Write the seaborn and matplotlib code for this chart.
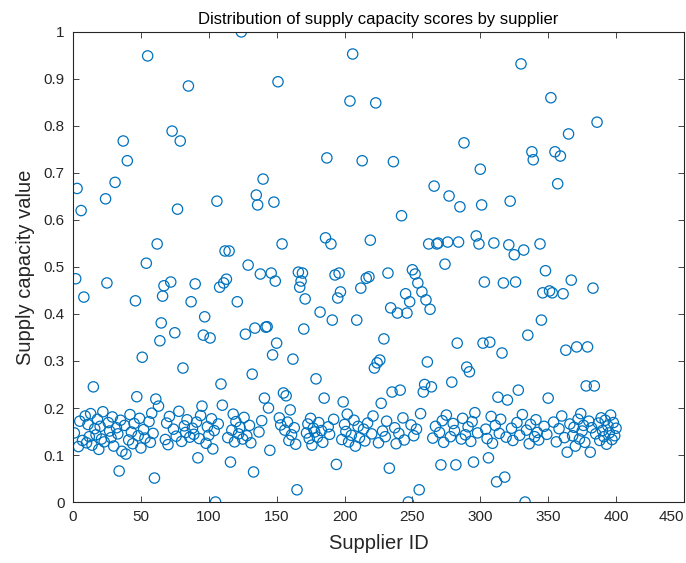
import numpy as np
import pandas as pd
import matplotlib
matplotlib.use("Agg")
import matplotlib.pyplot as plt
import seaborn as sns
from matplotlib.ticker import FuncFormatter

# Supplier IDs 1..400 and capacity values
supplier_ids = list(range(1, 401))
capacity = [
    0.147, 0.475, 0.667, 0.118, 0.172, 0.62, 0.131, 0.436, 0.183, 0.126,
    0.165, 0.139, 0.188, 0.121, 0.245, 0.156, 0.143, 0.176, 0.112, 0.161,
    0.134, 0.192, 0.128, 0.645, 0.466, 0.169, 0.151, 0.137, 0.181, 0.119,
    0.68, 0.158, 0.145, 0.066, 0.174, 0.108, 0.768, 0.163, 0.102, 0.726,
    0.132, 0.186, 0.149, 0.124, 0.167, 0.428, 0.224, 0.141, 0.178, 0.115,
    0.308, 0.154, 0.136, 0.508, 0.949, 0.171, 0.127, 0.189, 0.146, 0.051,
    0.219, 0.549, 0.204, 0.343, 0.381, 0.438, 0.46, 0.133, 0.168, 0.122,
    0.182, 0.468, 0.789, 0.155, 0.36, 0.14, 0.623, 0.193, 0.768, 0.129,
    0.285, 0.162, 0.148, 0.175, 0.885, 0.138, 0.426, 0.157, 0.144, 0.464,
    0.17, 0.094, 0.135, 0.184, 0.204, 0.355, 0.394, 0.125, 0.16, 0.142,
    0.349, 0.177, 0.113, 0.152, 0.0, 0.64, 0.166, 0.457, 0.251, 0.206,
    0.466, 0.534, 0.474, 0.137, 0.534, 0.085, 0.153, 0.187, 0.128, 0.171,
    0.426, 0.145, 0.159, 1.0, 0.134, 0.18, 0.357, 0.141, 0.504, 0.163,
    0.126, 0.272, 0.064, 0.37, 0.653, 0.632, 0.149, 0.485, 0.173, 0.687,
    0.221, 0.372, 0.373, 0.2, 0.11, 0.487, 0.313, 0.638, 0.47, 0.338,
    0.894, 0.179, 0.164, 0.549, 0.232, 0.153, 0.226, 0.17, 0.131, 0.196,
    0.143, 0.304, 0.158, 0.123, 0.026, 0.489, 0.457, 0.47, 0.487, 0.368,
    0.432, 0.147, 0.166, 0.135, 0.178, 0.121, 0.157, 0.149, 0.262, 0.138,
    0.169, 0.404, 0.152, 0.127, 0.221, 0.562, 0.732, 0.16, 0.144, 0.549,
    0.387, 0.176, 0.483, 0.08, 0.434, 0.487, 0.447, 0.133, 0.213, 0.165,
    0.15, 0.187, 0.128, 0.853, 0.142, 0.953, 0.174, 0.119, 0.387, 0.161,
    0.137, 0.455, 0.726, 0.155, 0.13, 0.476, 0.168, 0.479, 0.557, 0.145,
    0.183, 0.285, 0.849, 0.296, 0.126, 0.302, 0.21, 0.151, 0.347, 0.139,
    0.172, 0.487, 0.072, 0.413, 0.234, 0.724, 0.158, 0.124, 0.402, 0.146,
    0.238, 0.609, 0.179, 0.132, 0.443, 0.402, 0.0, 0.426, 0.164, 0.494,
    0.141, 0.485, 0.155, 0.466, 0.026, 0.188, 0.447, 0.234, 0.25, 0.43,
    0.298, 0.549, 0.41, 0.245, 0.136, 0.672, 0.161, 0.549, 0.551, 0.148,
    0.079, 0.173, 0.127, 0.506, 0.185, 0.553, 0.651, 0.139, 0.255, 0.167,
    0.152, 0.079, 0.338, 0.553, 0.628, 0.134, 0.178, 0.764, 0.143, 0.287,
    0.16, 0.277, 0.129, 0.171, 0.085, 0.19, 0.566, 0.147, 0.549, 0.708,
    0.632, 0.338, 0.468, 0.155, 0.135, 0.094, 0.34, 0.182, 0.125, 0.551,
    0.163, 0.043, 0.223, 0.146, 0.176, 0.317, 0.466, 0.053, 0.138, 0.217,
    0.547, 0.64, 0.157, 0.131, 0.526, 0.468, 0.169, 0.238, 0.142, 0.932,
    0.186, 0.536, 0.0, 0.153, 0.355, 0.124, 0.165, 0.745, 0.728, 0.139,
    0.175, 0.148, 0.132, 0.549, 0.387, 0.445, 0.161, 0.492, 0.144, 0.221,
    0.449, 0.86, 0.445, 0.17, 0.745, 0.128, 0.677, 0.156, 0.736, 0.183,
    0.443, 0.137, 0.323, 0.106, 0.783, 0.166, 0.472, 0.141, 0.159, 0.119,
    0.33, 0.176, 0.134, 0.188, 0.151, 0.163, 0.127, 0.247, 0.33, 0.172,
    0.106, 0.158, 0.455, 0.247, 0.145, 0.808, 0.168, 0.131, 0.179, 0.152,
    0.139, 0.174, 0.123, 0.162, 0.147, 0.185, 0.133, 0.169, 0.141, 0.157,
]

x_ticks = [0, 50, 100, 150, 200, 250, 300, 350, 400, 450]
y_ticks = [0, 0.1, 0.2, 0.3, 0.4, 0.5, 0.6, 0.7, 0.8, 0.9, 1.0]

df = pd.DataFrame({"Supplier ID": supplier_ids, "Capacity": capacity})

sns.set_theme(style="ticks")
plt.rcParams.update({
    'font.family': ['Liberation Sans', 'DejaVu Sans'],
    'xtick.direction': 'in',
    'ytick.direction': 'in',
    'xtick.top': True,
    'ytick.right': True,
    'axes.edgecolor': '#262626',
    'axes.linewidth': 0.8,
    'xtick.color': '#262626',
    'ytick.color': '#262626',
})

fig = plt.figure(figsize=(6.86, 5.63), dpi=100)
ax = fig.add_axes([0.1064, 0.1083, 0.8906, 0.835])

sns.scatterplot(data=df, x="Supplier ID", y="Capacity", ax=ax,
                marker='o', s=55, facecolor='none', edgecolor='#0072BD',
                linewidth=0.9)

ax.set_xlim(0, 450)
ax.set_ylim(0, 1)
ax.set_xticks(x_ticks)
ax.set_yticks(y_ticks)
ax.yaxis.set_major_formatter(FuncFormatter(lambda v, p: f"{v:g}"))
ax.tick_params(labelsize=11, length=4, width=0.6, pad=6)
# keep the last x tick label inside the figure, like the reference
ax.get_xticklabels()[-1].set_horizontalalignment('right')
ax.set_xlabel("Supplier ID", fontsize=14.5, color='#262626', labelpad=7)
ax.set_ylabel("Supply capacity value", fontsize=14.5, color='#262626', labelpad=6)
ax.set_title("Distribution of supply capacity scores by supplier", fontsize=12, color='black')

fig.savefig("out.png", dpi=100)
